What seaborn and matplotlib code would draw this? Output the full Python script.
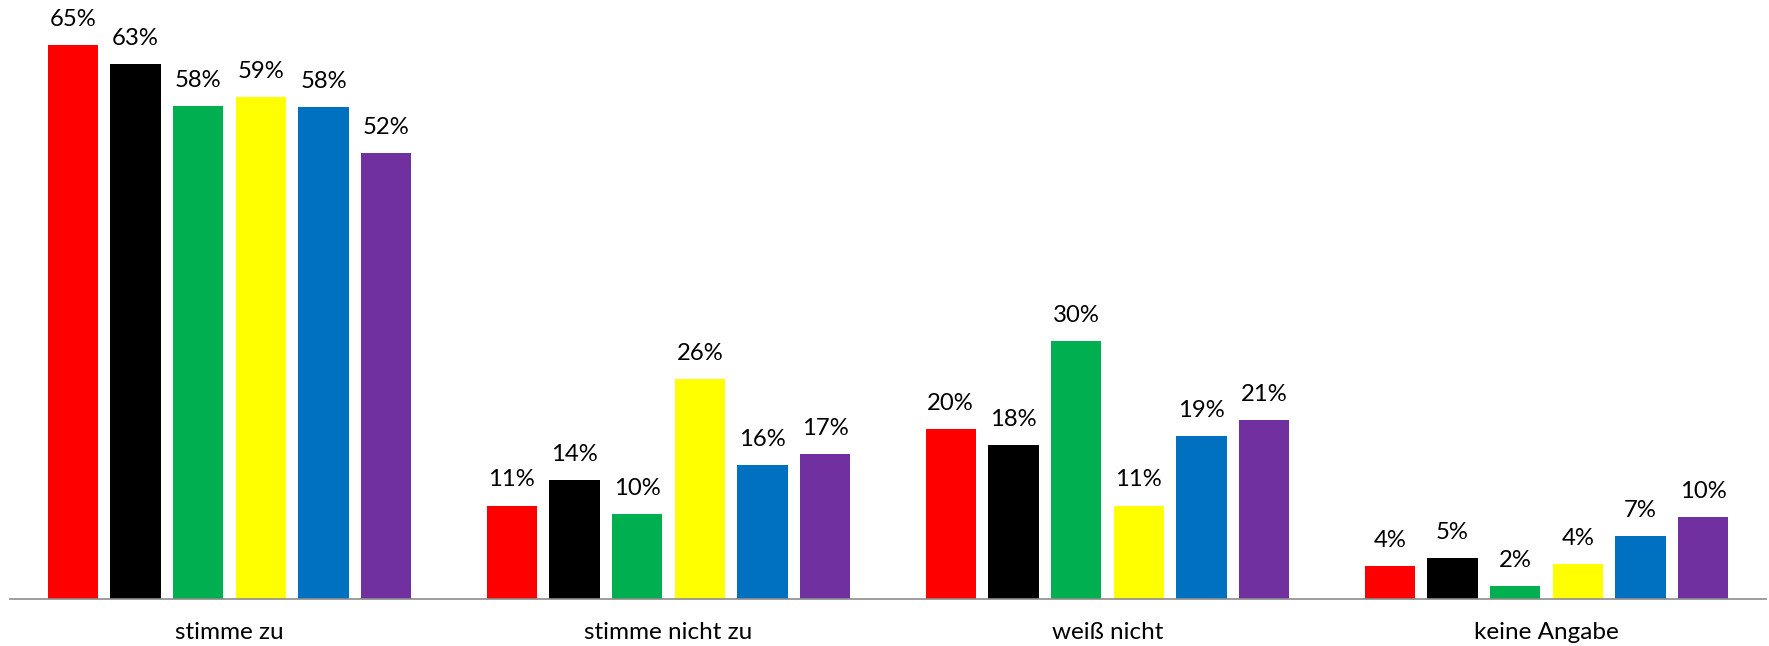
import numpy as np
import pandas as pd
import matplotlib
matplotlib.use("Agg")
import matplotlib.pyplot as plt
import seaborn as sns

# Antwortkategorien und Werte je Gruppe (in %)
categories = ["stimme zu", "stimme nicht zu", "weiß nicht", "keine Angabe"]
groups = ["Gruppe 1", "Gruppe 2", "Gruppe 3", "Gruppe 4", "Gruppe 5", "Gruppe 6"]
colors = ["#FF0000", "#000000", "#00B050", "#FFFF00", "#0070C0", "#7030A0"]

g1 = [65.0, 11.0, 20.0, 3.9]
g2 = [62.8, 14.0, 18.1, 4.9]
g3 = [57.9, 10.0, 30.3, 1.6]
g4 = [58.9, 25.8, 11.0, 4.1]
g5 = [57.7, 15.7, 19.1, 7.4]
g6 = [52.4, 17.0, 21.0, 9.6]

rows = []
for name, vals in zip(groups, [g1, g2, g3, g4, g5, g6]):
    for cat, v in zip(categories, vals):
        rows.append({"Antwort": cat, "Gruppe": name, "Anteil": v})
df = pd.DataFrame(rows)

sns.set_style("white")
plt.rcParams["font.family"] = ["Lato", "DejaVu Sans"]

fig = plt.figure(figsize=(17.69, 6.46), dpi=100)
ax = fig.add_axes([10 / 1769, 1 - 599.3 / 646, 1756 / 1769, 599.3 / 646])

sns.barplot(data=df, x="Antwort", y="Anteil", hue="Gruppe", order=categories,
            hue_order=groups, palette=colors, saturation=1, width=0.857, gap=0.2,
            linewidth=0, errorbar=None, legend=False, ax=ax)

# Prozentwerte über den Balken
for cont in ax.containers:
    for bar in cont:
        h = bar.get_height()
        ax.annotate(f"{h:.0f}%", (bar.get_x() + bar.get_width() / 2, h),
                    xytext=(0, 13.7), textcoords="offset points",
                    ha="center", va="baseline", fontsize=17.2, color="black")

ax.set_xlim(-0.5, 3.5)
ax.set_ylim(0, 70.3)
ax.set_xlabel("")
ax.set_ylabel("")
ax.set_yticks([])
ax.tick_params(axis="x", length=0, pad=16, labelsize=17.5, labelcolor="black")
for s in ["left", "right", "top"]:
    ax.spines[s].set_visible(False)
ax.spines["bottom"].set_color("#8c8c8c")
ax.spines["bottom"].set_linewidth(1.2)

fig.savefig("out.png", dpi=100, facecolor="white")
